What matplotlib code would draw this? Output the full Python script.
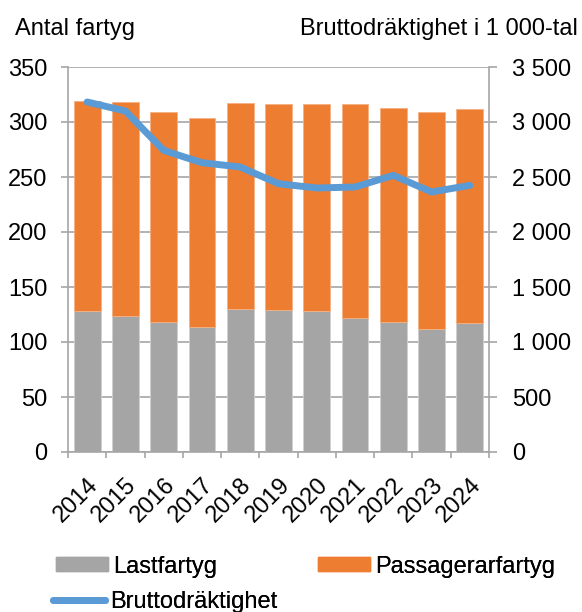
import numpy as np
import matplotlib.pyplot as plt
from matplotlib.patches import Patch
from matplotlib.lines import Line2D

plt.rcParams['font.family'] = ['Liberation Sans', 'DejaVu Sans']

# Data
years = ['2014', '2015', '2016', '2017', '2018', '2019', '2020', '2021', '2022', '2023', '2024']
lastfartyg = [128, 124, 118, 114, 130, 129, 128, 122, 118, 112, 117]
totalt = [319, 318, 309, 304, 317, 316, 316, 316, 313, 309, 312]
passagerarfartyg = [t - l for t, l in zip(totalt, lastfartyg)]
brutto = [3182, 3100, 2742, 2630, 2591, 2439, 2400, 2409, 2515, 2364, 2424]

gray = '#A5A5A5'
orange = '#ED7D31'
blue = '#5B9BD5'
grid_c = '#A6A6A6'
fs = 17

W, H = 582, 612
fig = plt.figure(figsize=(W / 100, H / 100), dpi=100)
ax = fig.add_axes([68 / W, 1 - 452 / H, 421 / W, 385 / H])
x = np.arange(len(years))

ax.bar(x, lastfartyg, width=0.7, color=gray, edgecolor='#D0D0D0', linewidth=0.6, zorder=2)
ax.bar(x, passagerarfartyg, width=0.7, bottom=lastfartyg, color=orange,
       edgecolor='#F4B183', linewidth=0.6, zorder=2)

ax.set_ylim(0, 350)
ax.set_xlim(-0.5, len(years) - 0.5)
ax.set_yticks(np.arange(0, 351, 50))
ax.yaxis.grid(True, color=grid_c, linewidth=1.2, zorder=0)
ax.set_axisbelow(True)

ax.set_xticks(x)
ax.set_xticklabels(years, rotation=45, ha='right', va='top', rotation_mode='anchor', fontsize=fs)
ax.set_xticks(np.arange(-0.5, len(years), 1), minor=True)
ax.tick_params(axis='x', which='major', length=0, pad=16)
ax.tick_params(axis='x', which='minor', length=4.5, color=grid_c, width=1.2)
ax.tick_params(axis='y', labelsize=fs, length=5, color=grid_c, width=1.2, pad=10)

for s in ['left', 'right', 'bottom']:
    ax.spines[s].set_color(grid_c)
    ax.spines[s].set_linewidth(1.2)
ax.spines['top'].set_visible(False)

ax2 = ax.twinx()
ax2.plot(x, brutto, color=blue, linewidth=5, solid_capstyle='round', zorder=3)
ax2.set_ylim(0, 3500)
ax2.set_yticks(np.arange(0, 3501, 500))
ax2.set_yticklabels([f'{v:,}'.replace(',', ' ') for v in range(0, 3501, 500)])
ax2.tick_params(axis='y', labelsize=fs, length=5.5, color=grid_c, width=1.2, pad=11)
for s in ['left', 'right', 'bottom', 'top']:
    ax2.spines[s].set_visible(False)

fig.text(15 / W, 1 - 35 / H, 'Antal fartyg', fontsize=fs, va='baseline', ha='left')
fig.text(578 / W, 1 - 35 / H, 'Bruttodräktighet i 1 000-tal', fontsize=fs,
         va='baseline', ha='right')

entries = [
    (Patch(color=gray), 'Lastfartyg', 56, 566.5),
    (Patch(color=orange), 'Passagerarfartyg', 318, 566.5),
    (Line2D([0], [0], color=blue, linewidth=5, solid_capstyle='round'), 'Bruttodräktighet', 53, 602),
]
for h, lab, lx, ly in entries:
    leg = fig.legend([h], [lab], loc='center left', bbox_to_anchor=(lx / W, 1 - ly / H),
                     frameon=False, fontsize=fs, handlelength=2.2, handleheight=0.55,
                     handletextpad=0.2, borderpad=0, borderaxespad=0)
    fig.add_artist(leg)

fig.savefig('out.png', dpi=100)
